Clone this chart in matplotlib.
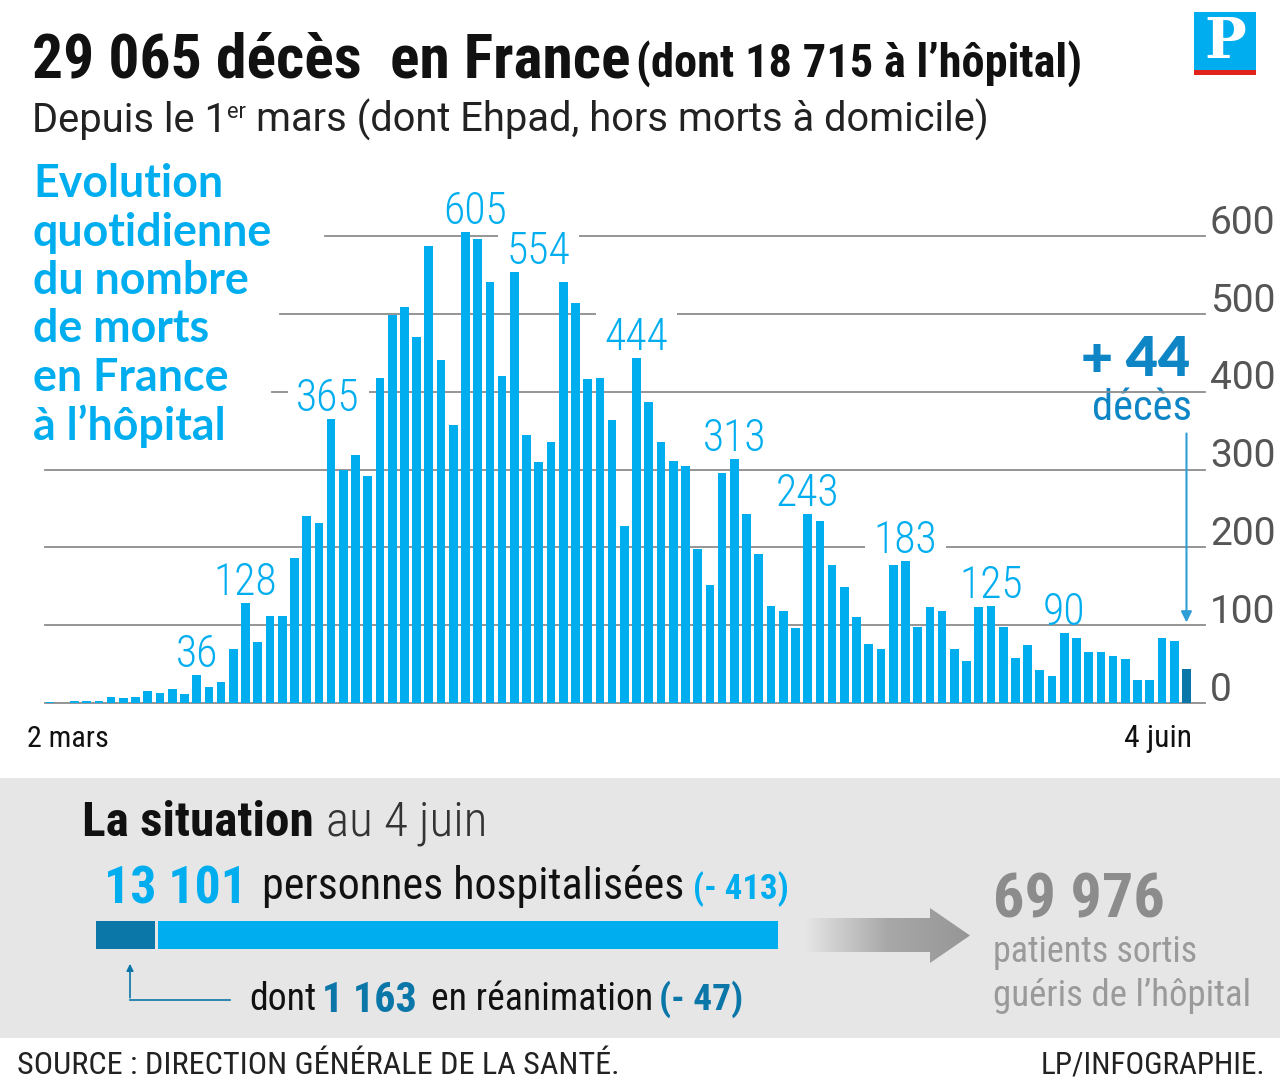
import matplotlib
matplotlib.use('Agg')
import matplotlib.pyplot as plt
import numpy as np
from matplotlib import font_manager
from matplotlib.patches import Rectangle, Polygon
from matplotlib.colors import LinearSegmentedColormap

# daily hospital deaths, 3 mars -> 4 juin
deaths = [1, 0, 2, 3, 2, 8, 6, 8, 15, 13, 18, 12, 36, 21, 27, 69,
          128, 78, 112, 112, 186, 240, 231, 365, 299, 319, 292, 418,
          499, 509, 471, 588, 441, 357, 605, 597, 541, 420, 554, 345, 310, 335, 541, 514,
          417, 418, 364, 227, 444, 387, 336, 311, 305, 198, 152, 295, 313, 243,
          191, 125, 118, 96, 243, 234, 177, 149, 111, 76, 69, 178, 183, 98, 123, 118, 70,
          54, 123, 125, 98, 58, 74, 42, 35, 90, 83, 65, 66, 61, 57, 30, 30, 84, 80, 44]
labelled = [12, 16, 23, 34, 38, 48, 56, 62, 70, 77, 83]
y_ticks = [0, 100, 200, 300, 400, 500, 600]
first_day = "2 mars"
last_day = "4 juin"

hospitalised = 13101
reanimation = 1163
recovered = 69976

W, H = 1280, 1079
BLUE = '#00AEEF'
DARK = '#0B76A8'
MID = '#0E86C6'
GRID = '#8C8C8C'

have = {f.name for f in font_manager.fontManager.ttflist}
def pick(*names):
    return next((n for n in names if n in have), 'DejaVu Sans')
COND = pick('Roboto Condensed', 'Liberation Sans Narrow', 'DejaVu Sans Condensed')
SANS = pick('Roboto', 'Lato', 'Open Sans')
HEAVY = pick('Lato', 'Open Sans', 'Roboto')

fig = plt.figure(figsize=(W / 100, H / 100), dpi=100)
bg = fig.add_axes([0, 0, 1, 1])
bg.set_xlim(0, W)
bg.set_ylim(H, 0)
bg.axis('off')
r = fig.canvas.get_renderer()

def size_for(s, w, **kw):
    t = bg.text(0, 0, s, fontsize=10, **kw)
    wd = t.get_window_extent(renderer=r).width
    t.remove()
    return 10 * w / wd

def put(x, y, s, w=None, **kw):
    kw.setdefault('va', 'baseline')
    if w:
        kw['fontsize'] = size_for(s, w, **{k: v for k, v in kw.items() if k not in ('va', 'ha', 'color')})
    return bg.text(x, y, s, **kw)

# ---- header
put(32, 78, "29 065 décès  en France", 598, family=COND, fontweight='bold', color='#111')
put(636, 77, "(dont 18 715 à l’hôpital)", 446, family=COND, fontweight='bold', color='#111')

fs_sub = size_for("mars (dont Ehpad, hors morts à domicile)", 734, family=SANS)
t1 = put(32, 132, "Depuis le 1", fontsize=fs_sub, family=SANS, color='#222')
x_er = 32 + t1.get_window_extent(renderer=r).width
t2 = put(x_er, 118, "er", fontsize=fs_sub * 0.55, family=SANS, color='#222')
x_m = x_er + t2.get_window_extent(renderer=r).width + fs_sub * 0.35
put(x_m, 132, "mars (dont Ehpad, hors morts à domicile)", fontsize=fs_sub, family=SANS, color='#222')

# logo
bg.add_patch(Rectangle((1194, 12), 62, 58, fc=BLUE, ec='none'))
bg.add_patch(Rectangle((1194, 70), 62, 5, fc='#E2231A', ec='none'))
bg.text(1225, 42, "P", ha='center', va='center', fontsize=40, color='white',
        family='DejaVu Serif', fontweight='bold')

# blue block title
fs_blk = size_for("quotidienne", 241, family=HEAVY, fontweight='bold')
for k, line in enumerate(["Evolution", "quotidienne", "du nombre", "de morts", "en France", "à l’hôpital"]):
    put(33, 197 + 48.5 * k, line, fontsize=fs_blk, family=HEAVY, fontweight='bold', color=BLUE)

# ---- bar chart
PX_UNIT = 0.778   # pixels per death
PITCH = 12.22     # pixels per day
ax = fig.add_axes([45 / W, (H - 703) / H, 1160 / W, 543 / H])
ax.patch.set_visible(False)
ax.axis('off')
x = np.arange(len(deaths))
ax.set_xlim(-0.41, -0.41 + 1160 / PITCH)
ax.set_ylim(0, 543 / PX_UNIT)
cols = [BLUE] * (len(deaths) - 1) + [DARK]
ax.bar(x, deaths, width=0.71, color=cols, zorder=3)

grid_start = {600: 325, 500: 280, 400: 272}
fs_tick = size_for("600", 65, family=SANS)
for v in y_ticks:
    ax.axhline(v, xmin=(grid_start.get(v, 45) - 45) / 1160, xmax=1, color=GRID, lw=1.3,
               zorder=1, clip_on=False)
    ax.text(1.0043, v + 3, str(v), transform=ax.get_yaxis_transform(), ha='left', va='baseline',
            fontsize=fs_tick, family=SANS, color='#555')

fs_lab = size_for("605", 64, family=COND, fontweight='light')
shift = {23: -3, 34: 10, 38: 24}
boxed = {23, 38, 48, 70}
for i in labelled:
    # white boxes cut the grid lines but stay under the other labels
    box = dict(boxstyle='square,pad=0.2', fc='white', ec='none') if i in boxed else None
    ax.annotate(str(deaths[i]), (i, deaths[i]), xytext=(shift.get(i, 0), 8),
                textcoords='offset pixels', ha='center', va='baseline', fontsize=fs_lab,
                family=COND, fontweight='light', color=BLUE, zorder=1.5 if box else 2.5, bbox=box)

last = len(deaths) - 1
ax.annotate('', xy=(last, 100), xytext=(last, 350),
            arrowprops=dict(arrowstyle='-|>', color='#2E9ED6', lw=1.5, mutation_scale=16))
put(1190, 376, "+ %d" % deaths[-1], 110, ha='right', family=HEAVY, fontweight='heavy', color=MID)
put(1192, 420, "décès", 99, ha='right', family=COND, color=MID)

put(27, 747, first_day, 81, family=COND, color='#111')
put(1192, 747, last_day, 68, ha='right', family=COND, color='#111')

# ---- situation panel
bg.add_patch(Rectangle((0, 778), W, 260, fc='#E6E6E6', ec='none', zorder=0))
put(82, 836, "La situation", 232, family=COND, fontweight='bold', color='#111')
put(326, 836, "au 4 juin", 162, family=COND, fontweight='light', color='#333')

put(104, 903, "{:,}".format(hospitalised).replace(',', ' '), 144, family=COND, fontweight='bold', color=BLUE)
put(262, 899, "personnes hospitalisées", 419, family=COND, color='#111')
put(693, 899, "(- 413)", 97, family=COND, fontweight='bold', color=BLUE)

bar_w = 682
rea_w = bar_w * reanimation / hospitalised
bg.add_patch(Rectangle((96, 921), rea_w - 2, 28, fc=DARK, ec='none', zorder=2))
bg.add_patch(Rectangle((96 + rea_w + 1, 921), bar_w - rea_w - 1, 28, fc=BLUE, ec='none', zorder=2))

bg.plot([130, 230], [1000, 1000], color=DARK, lw=1.2)
bg.annotate('', xy=(130, 961), xytext=(130, 1000.6),
            arrowprops=dict(arrowstyle='-|>', color=DARK, lw=1.2, mutation_scale=10))
put(249, 1010, "dont", 67, family=COND, color='#111')
put(322, 1012, "{:,}".format(reanimation).replace(',', ' '), 96, family=COND, fontweight='bold', color=DARK)
put(431, 1010, "en réanimation", 220, family=COND, color='#111')
put(659, 1010, "(- 47)", 85, family=COND, fontweight='bold', color=DARK)

# gradient arrow
arrow = Polygon([(805, 918), (930, 918), (930, 908), (970, 935.5), (930, 963), (930, 952), (805, 952)],
                closed=True, fc='none', ec='none')
bg.add_patch(arrow)
grad = LinearSegmentedColormap.from_list('g', ['#E6E6E6', '#A8A8A8', '#969696'])
im = bg.imshow(np.linspace(0, 1, 256).reshape(1, -1), cmap=grad, extent=[805, 970, 963, 908],
               aspect='auto', zorder=1)
im.set_clip_path(arrow)
bg.set_xlim(0, W)
bg.set_ylim(H, 0)

put(993, 917, "{:,}".format(recovered).replace(',', ' '), 172, family=COND, fontweight='bold', color='#8C8C8C')
put(993, 962, "patients sortis", 202, family=COND, color='#9A9A9A')
put(993, 1006, "guéris de l’hôpital", 257, family=COND, color='#9A9A9A')

put(17, 1074, "SOURCE : DIRECTION GÉNÉRALE DE LA SANTÉ.", 600, family=COND, color='#222')
put(1265, 1074, "LP/INFOGRAPHIE.", 225, ha='right', family=COND, color='#222')

fig.savefig('out.png', dpi=100)
